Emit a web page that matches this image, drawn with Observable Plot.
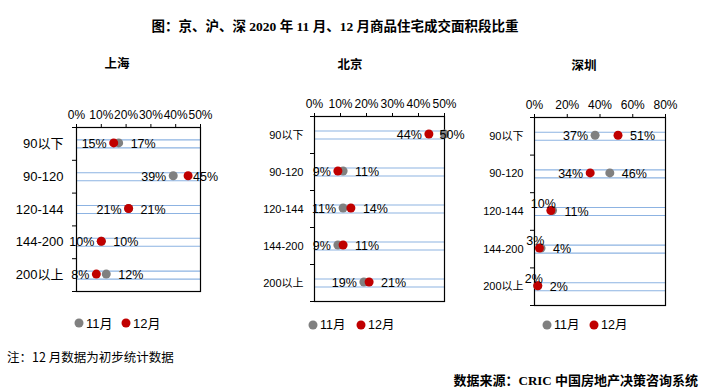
<!DOCTYPE html>
<html><head><meta charset="utf-8">
<script src="https://cdn.jsdelivr.net/npm/d3@7"></script>
<script src="https://cdn.jsdelivr.net/npm/@observablehq/plot@0.6"></script>
<style>
body{margin:0;background:#fff;}
#root{position:relative;width:701px;height:389px;overflow:hidden;background:#fff;font-family:"Liberation Sans","Noto Sans CJK SC",sans-serif;color:#000;}
.abs{position:absolute;white-space:nowrap;line-height:1;}
.c{transform:translate(-50%,-50%);}
.l{transform:translate(0,-50%);}
.r{transform:translate(-100%,-50%);}
.dot{position:absolute;width:9px;height:9px;border-radius:50%;transform:translate(-50%,-50%);}
svg{overflow:visible;}
</style></head><body><div id="root"></div>
<script>
// ---- data ----
const categories = ["90以下", "90-120", "120-144", "144-200", "200以上"];
const seriesNames = ["11月", "12月"];
const shanghaiNov = [17, 39, 21, 10, 12];
const shanghaiDec = [15, 45, 21, 10, 8];
const beijingNov = [50, 11, 11, 9, 19];
const beijingDec = [44, 9, 14, 11, 21];
const shenzhenNov = [37, 46, 11, 4, 2];
const shenzhenDec = [51, 34, 10, 3, 2];
const titleText = "图：京、沪、深 2020 年 11 月、12 月商品住宅成交面积段比重";
const noteText = "注：12 月数据为初步统计数据";
const sourceText = "数据来源：CRIC 中国房地产决策咨询系统";
// ---- style ----
const GRAY = "#808080", RED = "#c00000", BLUE = "#8db3e2";
const root = document.getElementById("root");

function addText(txt, x, y, cls, css) {
  const d = document.createElement("div");
  d.className = "abs " + cls;
  d.textContent = txt;
  d.style.left = x + "px"; d.style.top = y + "px";
  Object.assign(d.style, css || {});
  root.appendChild(d);
  return d;
}
function addDot(x, y, color) {
  const d = document.createElement("div");
  d.className = "dot";
  d.style.left = x + "px"; d.style.top = y + "px"; d.style.background = color;
  root.appendChild(d);
}

function panel(o) {
  const plotW = o.width - o.ml - o.mr;
  const rows = categories.map((c, i) => ({cat: c, i, nov: o.nov[i], dec: o.dec[i]}));
  const pts = [];
  rows.forEach(r => {
    const novLeft = r.nov <= r.dec;
    pts.push({s: seriesNames[0], v: r.nov, y: r.i + 0.5, side: novLeft ? "L" : "R"});
    pts.push({s: seriesNames[1], v: r.dec, y: r.i + 0.5, side: novLeft ? "R" : "L"});
  });
  // labels crowded against the frame edges are nudged
  const px = v => v / o.maxX * plotW;
  const room = d => plotW - px(d.v);
  const leftN = pts.filter(d => d.side === "L" && px(d.v) >= 18);
  const leftC = pts.filter(d => d.side === "L" && px(d.v) < 18);
  const rightN = pts.filter(d => d.side === "R" && room(d) >= 20);
  const rightM = pts.filter(d => d.side === "R" && room(d) < 20 && room(d) >= 5);
  const rightC = pts.filter(d => d.side === "R" && room(d) < 5);
  const ticks = d3.range(0, o.maxX + 1, o.step);
  const lbl = d => d.v + "%";
  const chart = Plot.plot({
    width: o.width, height: o.height,
    marginTop: o.mt, marginRight: o.mr, marginBottom: o.mb, marginLeft: o.ml,
    style: {fontFamily: '"Liberation Sans","Noto Sans CJK SC",sans-serif', fontSize: "12px", color: "#000", background: "transparent", overflow: "visible"},
    x: {domain: [0, o.maxX]},
    y: {domain: [0, 5], reverse: true},
    marks: [
      Plot.ruleY(rows, {y: d => d.i + 0.5, dy: -4, stroke: BLUE, strokeWidth: 1.1}),
      Plot.ruleY(rows, {y: d => d.i + 0.5, dy: 4, stroke: BLUE, strokeWidth: 1.1}),
      Plot.frame({stroke: "#000", strokeWidth: 1.2}),
      Plot.axisX({anchor: "top", ticks, tickSize: 4, tickPadding: 5, tickFormat: d => d + "%", fontSize: 12, label: null}),
      Plot.axisY({anchor: "left", ticks: [0, 1, 2, 3, 4, 5], tickSize: 4, tickFormat: () => "", label: null}),
      Plot.axisY({anchor: "left", ticks: [0.5, 1.5, 2.5, 3.5, 4.5], tickSize: 0, tickPadding: o.ypad, tickFormat: v => categories[Math.floor(v)], fontSize: o.yFont, label: null}),
      Plot.dot(pts.filter(d => d.s === seriesNames[0]), {x: "v", y: "y", r: 4.5, fill: GRAY, dy: -1}),
      Plot.dot(pts.filter(d => d.s === seriesNames[1]), {x: "v", y: "y", r: 4.5, fill: RED, dy: -1}),
      Plot.text(leftN, {x: "v", y: "y", text: lbl, textAnchor: "end", dx: -7, fontSize: 12.5, fill: "#000"}),
      Plot.text(leftC, {x: "v", y: "y", text: lbl, textAnchor: "end", dx: 5, dy: -8, fontSize: 12.5, fill: "#000"}),
      Plot.text(rightN, {x: "v", y: "y", text: lbl, textAnchor: "start", dx: 12, fontSize: 12.5, fill: "#000"}),
      Plot.text(rightM, {x: "v", y: "y", text: lbl, textAnchor: "start", dx: 5, fontSize: 12.5, fill: "#000"}),
      Plot.text(rightC, {x: "v", y: "y", text: lbl, textAnchor: "start", dx: -5, fontSize: 12.5, fill: "#000"})
    ]
  });
  chart.style.position = "absolute";
  chart.style.left = o.left + "px";
  chart.style.top = o.top + "px";
  root.appendChild(chart);
  addText(o.name, o.nameX, o.nameY, "c", {fontFamily: '"Noto Sans CJK SC"', fontWeight: "bold", fontSize: "12.5px"});
  addDot(o.lx, o.ly, GRAY);
  addText(seriesNames[0], o.lx + 7, o.ly, "l", {fontSize: o.lf + "px"});
  addDot(o.lx2, o.ly, RED);
  addText(seriesNames[1], o.lx2 + 7, o.ly, "l", {fontSize: o.lf + "px"});
}

addText(titleText, 335, 27, "c", {fontFamily: '"Liberation Serif","Noto Sans CJK SC"', fontWeight: "bold", fontSize: "13.5px"});

panel({name: "上海", nameX: 117, nameY: 63, nov: shanghaiNov, dec: shanghaiDec, maxX: 50, step: 10,
  left: 0, top: 90, width: 235, height: 210, mt: 37, mr: 35, mb: 9, ml: 76, yFont: 13, ypad: 13,
  lx: 79, lx2: 126, ly: 323, lf: 13});
panel({name: "北京", nameX: 350, nameY: 64, nov: beijingNov, dec: beijingDec, maxX: 50, step: 10,
  left: 240, top: 80, width: 235, height: 230, mt: 36, mr: 31, mb: 9, ml: 74, yFont: 11, ypad: 11,
  lx: 313, lx2: 361, ly: 325, lf: 12.5});
panel({name: "深圳", nameX: 584, nameY: 65, nov: shenzhenNov, dec: shenzhenDec, maxX: 80, step: 20,
  left: 470, top: 80, width: 231, height: 235, mt: 37, mr: 36, mb: 10, ml: 64, yFont: 11, ypad: 11,
  lx: 547, lx2: 594, ly: 325, lf: 12.5});

addText(noteText, 7, 357, "l", {fontFamily: '"Noto Sans CJK SC"', fontSize: "12.5px"});
addText(sourceText, 698, 380, "r", {fontFamily: '"Liberation Serif","Noto Sans CJK SC"', fontWeight: "bold", fontSize: "13px"});
</script>
</body></html>
